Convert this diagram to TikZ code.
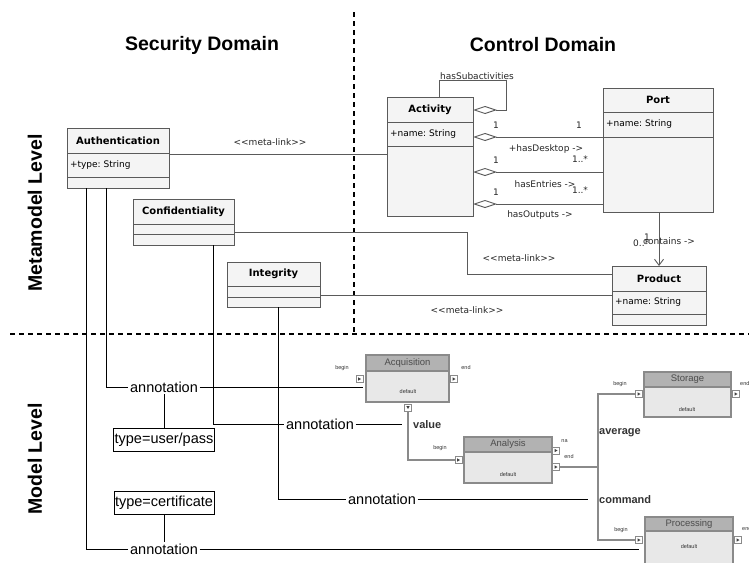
\documentclass[tikz,border=0pt]{standalone}
\usepackage{fontspec}
\setmainfont{Liberation Sans}
\newfontfamily\umlfont{DejaVu Sans}
\usetikzlibrary{positioning,arrows.meta}
\frenchspacing

\definecolor{umlgray}{HTML}{5A5A5A}
\definecolor{umlfill}{HTML}{F4F4F4}
\definecolor{headgray}{HTML}{B2B2B2}
\definecolor{bodygray}{HTML}{E8E8E8}
\definecolor{flowgray}{HTML}{8A8A8A}

\begin{document}
\begin{tikzpicture}[x=1pt,y=-1pt,
    umlhead/.style={draw=umlgray,fill=umlfill,line width=0.9pt,anchor=north west,
        minimum width=#1,inner sep=0pt,outer sep=0pt,font=\umlfont\bfseries\fontsize{10}{12}\selectfont},
    umlattr/.style={draw=umlgray,fill=umlfill,line width=0.9pt,minimum width=#1,
        text width=#1pt-6pt,inner xsep=3pt,inner ysep=0pt,outer sep=0pt,align=left,
        font=\umlfont\fontsize{9}{11}\selectfont},
    umlrest/.style={draw=umlgray,fill=umlfill,line width=0.9pt,minimum width=#1,
        inner sep=0pt,outer sep=0pt},
    umltext/.style={font=\umlfont\fontsize{9}{11}\selectfont,text=black!85,inner sep=0pt},
    metalink/.style={draw=umlgray,line width=0.9pt},
    aggr/.style={draw=umlgray,line width=0.9pt,{Diamond[open,length=24pt,width=8pt]}-},
    acthead/.style={draw=flowgray,fill=headgray,line width=1.2pt,anchor=north west,
        minimum width=#1,minimum height=15,inner sep=0pt,outer sep=0pt,
        font=\fontsize{9.5}{10}\selectfont,text=black!70},
    actbody/.style={draw=flowgray,fill=bodygray,line width=1.2pt,minimum width=#1,
        inner sep=0pt,outer sep=0pt},
    tiny/.style={font=\fontsize{5.5}{6}\selectfont,inner sep=0pt,text=black!80},
    pinbox/.style={draw=flowgray,fill=white,line width=0.8pt,minimum size=7,inner sep=0pt,
        path picture={\fill[black!75] ([xshift=-1.3pt,yshift=1.6pt]path picture bounding box.center)
            -- ++(2.8pt,-1.6pt) -- ++(-2.8pt,-1.6pt) -- cycle;}},
    pindown/.style={draw=flowgray,fill=white,line width=0.8pt,minimum size=7,inner sep=0pt,
        path picture={\fill[black!75] ([xshift=-1.6pt,yshift=1.3pt]path picture bounding box.center)
            -- ++(3.2pt,0pt) -- ++(-1.6pt,-2.8pt) -- cycle;}},
    flow/.style={draw=flowgray,line width=1.3pt},
    branch/.style={font=\bfseries\fontsize{11}{13}\selectfont,inner sep=0pt,text=black!80,anchor=west},
    note/.style={draw=black,line width=0.9pt},
    ann/.style={font=\fontsize{14.5}{16}\selectfont,inner sep=1.5pt},
    tagbox/.style={draw=black,line width=0.9pt,font=\fontsize{14.5}{16}\selectfont,
        inner xsep=1pt,inner ysep=0pt,minimum height=23},
    heading/.style={font=\bfseries\fontsize{19.5}{22}\selectfont},
    sep/.style={draw=black,line width=1.2pt,dash pattern=on 5pt off 4pt}]

\useasboundingbox (0,0) rectangle (749,562);

% domains and levels
\node[heading] (sec) at (202,45) {Security Domain};
\node[heading] (ctrl) at (543,45) {Control Domain};
\node[heading,rotate=90] (meta) at (35,213) {Metamodel Level};
\node[heading,rotate=90] (model) at (35,459) {Model Level};
\draw[sep] (354,12) -- (354,333);
\draw[sep] (10,334) -- (749,334);

% security classes
\node[umlhead=102,minimum height=25] (auth) at (67,128) {Authentication};
\node[umlattr=102,minimum height=24,below=0pt of auth] (auth-a) {+type: String};
\node[umlrest=102,minimum height=11,below=0pt of auth-a] (auth-e) {};

\node[umlhead=101,minimum height=25] (conf) at (133,199) {Confidentiality};
\node[umlrest=101,minimum height=10,below=0pt of conf] (conf-a) {};
\node[umlrest=101,minimum height=11,below=0pt of conf-a] (conf-e) {};

\node[umlhead=93,minimum height=24] (integ) at (227,262) {Integrity};
\node[umlrest=93,minimum height=11,below=0pt of integ] (integ-a) {};
\node[umlrest=93,minimum height=10,below=0pt of integ-a] (integ-e) {};

% control classes
\node[umlhead=86,minimum height=25] (act) at (387,97) {Activity};
\node[umlattr=86,minimum height=24,below=0pt of act] (act-a) {+name: String};
\node[umlrest=86,minimum height=70,below=0pt of act-a] (act-e) {};

\node[umlhead=110,minimum height=24] (port) at (603,88) {Port};
\node[umlattr=110,minimum height=25,below=0pt of port] (port-a) {+name: String};
\node[umlrest=110,minimum height=75,below=0pt of port-a] (port-e) {};

\node[umlhead=94,minimum height=25] (prod) at (612,266) {Product};
\node[umlattr=94,minimum height=23,below=0pt of prod] (prod-a) {+name: String};
\node[umlrest=94,minimum height=11,below=0pt of prod-a] (prod-e) {};

% meta-links
\draw[metalink] (auth-a.east |- 0,154) -- (act-e.west |- 0,154);
\node[umltext] (ml-auth) at (270,142) {<<meta-link>>};
\draw[metalink] (conf-a.east |- 0,232) -| (467,274) -- (prod.west |- 0,274);
\node[umltext] (ml-conf) at (519,258) {<<meta-link>>};
\draw[metalink] (integ-a.east |- 0,295) -- (prod-a.west |- 0,295);
\node[umltext] (ml-integ) at (467,310) {<<meta-link>>};

% associations
\draw[aggr] (act.east |- 0,110) -| (506,80) -| (act.north -| 439,0);
\node[umltext,anchor=base] (sub) at (477,79) {hasSubactivities};
\draw[aggr] (act-a.east |- 0,137) -- (port-a.west |- 0,137);
\node[umltext] (m1a) at (496,125) {1};
\node[umltext] (m1b) at (579,125) {1};
\node[umltext] (desk) at (546,149) {+hasDesktop ->};
\draw[aggr] (act-e.east |- 0,172) -- (port-e.west |- 0,172);
\node[umltext] (m2a) at (496,160) {1};
\node[umltext] (m2b) at (580,159) {1..*};
\node[umltext] (entr) at (545,184) {hasEntries ->};
\draw[aggr] (act-e.east |- 0,204) -- (port-e.west |- 0,204);
\node[umltext] (m3a) at (496,192) {1};
\node[umltext] (m3b) at (580,190) {1..*};
\node[umltext] (outp) at (540,215) {hasOutputs ->};
\draw[metalink,-{Straight Barb[length=6pt,width=9pt]}] (port-e.south -| 659,0) -- (prod.north -| 659,0);
\node[umltext,anchor=west] (m4a) at (633,243) {0..*};
\node[umltext] (m4b) at (647,237) {1};
\node[umltext,anchor=west] (cont) at (643,241) {contains ->};

% model level activities
\node[acthead=83,minimum height=16] (acq) at (366,355) {Acquisition};
\node[actbody=83,minimum height=31,below=0pt of acq] (acq-b) {};
\node[tiny] (acq-d) at (408,392) {default};
\node[pinbox] (acq-in) at (359.5,379) {};
\node[tiny] (acq-in-l) at (342,368) {begin};
\node[pinbox] (acq-out) at (454,379) {};
\node[tiny] (acq-out-l) at (466,368) {end};
\node[pindown] (acq-val) at (408,407.5) {};

\node[acthead=88] (ana) at (464,437) {Analysis};
\node[actbody=88,minimum height=31,below=0pt of ana] (ana-b) {};
\node[tiny] (ana-d) at (508,475) {default};
\node[pinbox] (ana-in) at (458.5,460) {};
\node[tiny] (ana-in-l) at (440,448) {begin};
\node[pinbox] (ana-na) at (556,450.5) {};
\node[tiny] (ana-na-l) at (564.5,441) {na};
\node[pinbox] (ana-end) at (556,467) {};
\node[tiny] (ana-end-l) at (569,457) {end};

\node[acthead=87] (sto) at (644,372) {Storage};
\node[actbody=87,minimum height=30,below=0pt of sto] (sto-b) {};
\node[tiny] (sto-d) at (687,410) {default};
\node[pinbox] (sto-in) at (639,394) {};
\node[tiny] (sto-in-l) at (620,384) {begin};
\node[pinbox] (sto-out) at (736,394) {};
\node[tiny,anchor=west] (sto-out-l) at (740,384) {end};

\node[acthead=88,minimum height=14] (pro) at (645,517) {Processing};
\node[actbody=88,minimum height=33,below=0pt of pro] (pro-b) {};
\node[tiny] (pro-d) at (689,547) {default};
\node[pinbox] (pro-in) at (639,540) {};
\node[tiny] (pro-in-l) at (621,530) {begin};
\node[pinbox] (pro-out) at (738,540) {};
\node[tiny,anchor=west] (pro-out-l) at (742,529) {end};

% flows
\draw[flow] (acq-val) |- (ana-in);
\node[branch] (val) at (413,425) {value};
\coordinate (fork) at (598,467);
\draw[flow] (ana-end) -- (fork);
\draw[flow] (sto-in) -| (fork) |- (pro-in);
\node[branch] (avg) at (599,433) {average};
\node[branch] (cmd) at (599,500) {command};

% annotations
\node[ann] (ann-auth) at (164,387) {annotation};
\node[tagbox] (userpass) at (164,440) {type=user/pass};
\node[ann] (ann-conf) at (320,424) {annotation};
\node[ann] (ann-integ) at (382,499) {annotation};
\node[tagbox] (cert) at (164,503) {type=certificate};
\node[ann] (ann-cert) at (164,549) {annotation};

\draw[note] (auth-e.south -| 106,0) |- (ann-auth);
\draw[note] (ann-auth) -- (acq-in.east |- ann-auth);
\draw[note] (ann-auth) -- (userpass);
\draw[note] (conf-e.south -| 213,0) |- (ann-conf);
\coordinate (val-tap) at (402,424);
\draw[note] (ann-conf) -- (val-tap);
\draw[note] (integ-e.south -| 278,0) |- (ann-integ);
\coordinate (cmd-tap) at (588,499);
\draw[note] (ann-integ) -- (cmd-tap);
\draw[note] (auth-e.south -| 86,0) |- (ann-cert);
\draw[note] (cert) -- (ann-cert);
\draw[note] (ann-cert) -- (pro-in.south |- ann-cert);
\end{tikzpicture}
\end{document}
